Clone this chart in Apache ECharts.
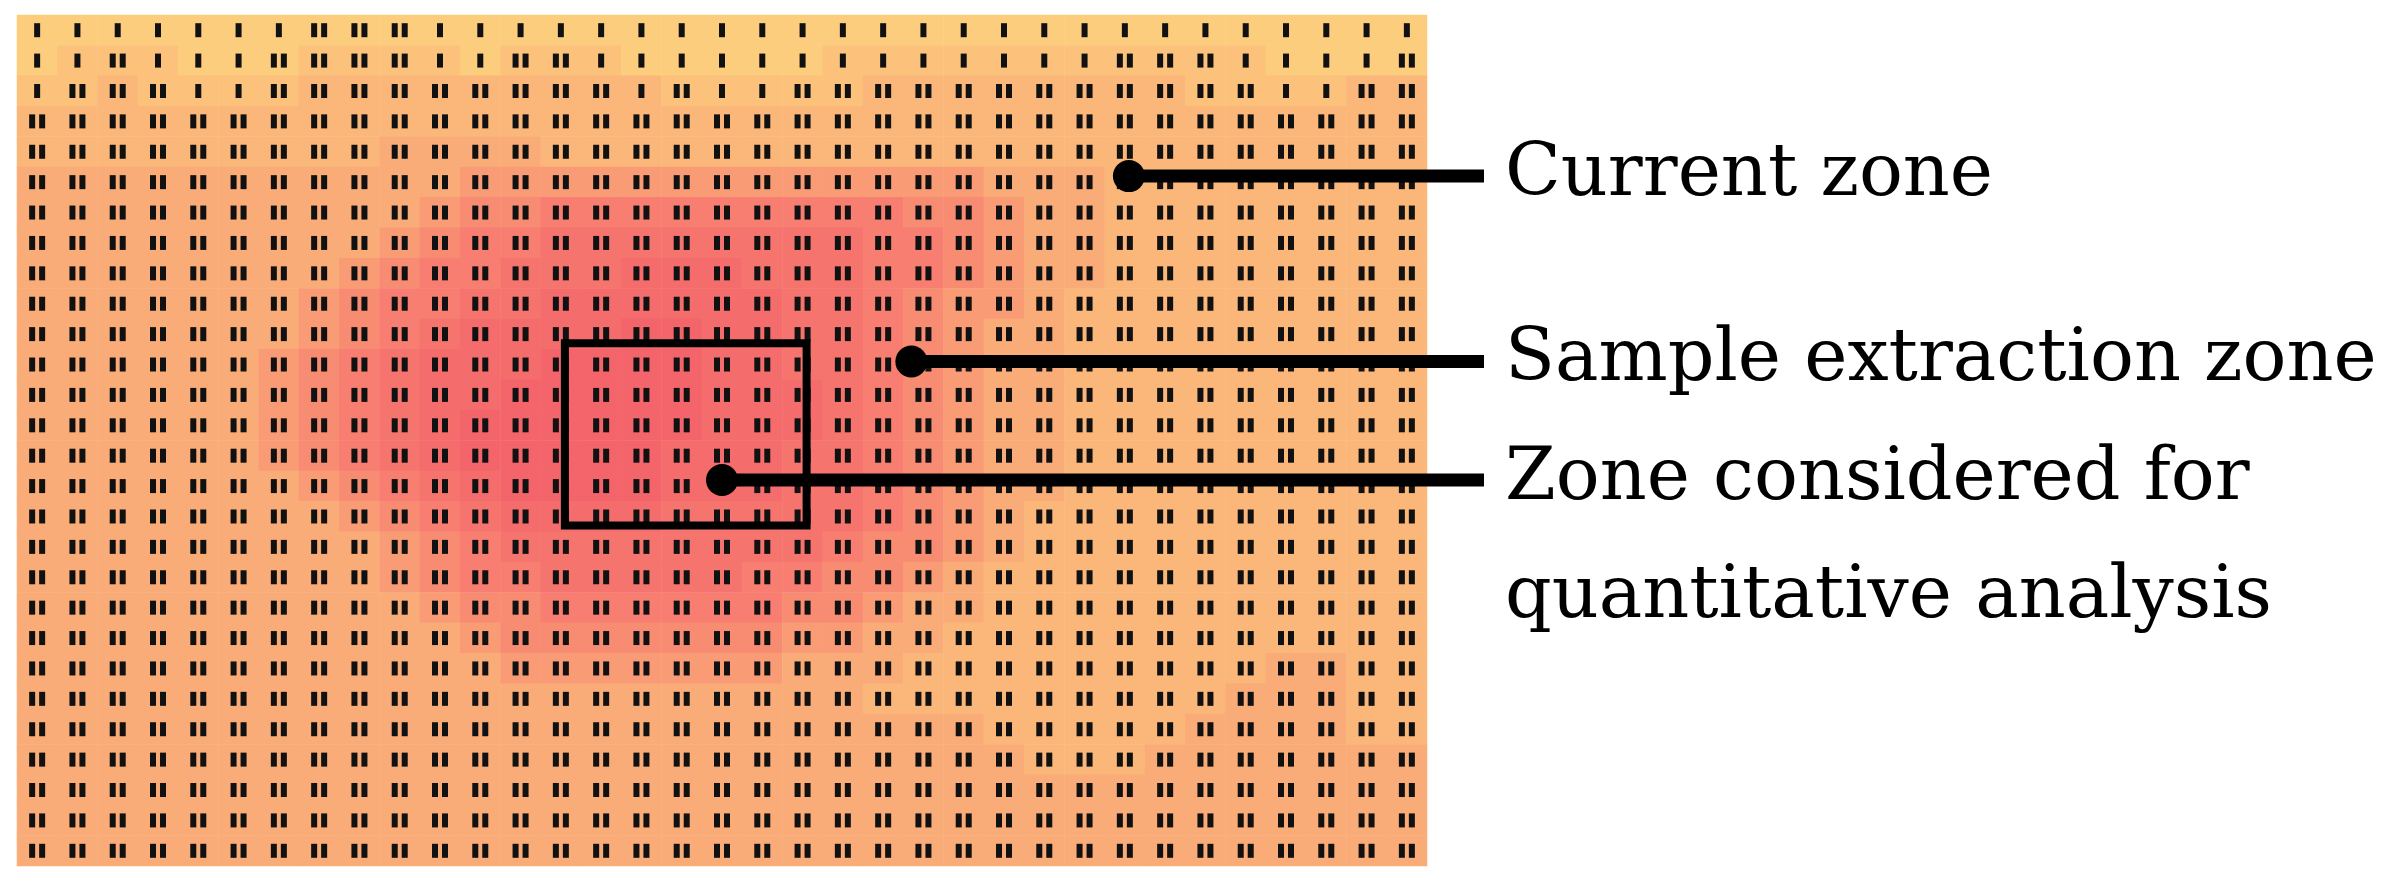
<!DOCTYPE html>
<html>
<head>
<meta charset="utf-8">
<script src="https://cdn.jsdelivr.net/npm/echarts@6/dist/echarts.min.js"></script>
<style>html,body{margin:0;background:#fff}#myChart{width:2400px;height:884px}</style>
</head>
<body>
<div id="myChart"></div>
<script>
// intensity levels (0 = yellow, 9 = red) per row
const rows = [
  "00000000000000000000000000000000000",
  "01110001111011100000111111111110000",
  "11211112222222221111122222222111122",
  "22222222222222222222222222222222222",
  "22222222233332222222222222222222222",
  "33333333333444444444444433322222222",
  "33333333334556666666665543322222222",
  "33333333345667777777766543322222222",
  "33333333456677788877766543322222222",
  "33333334566778888887765443222222222",
  "33333334567888899887765433222222222",
  "33333345678889999887765433222222222",
  "33333345678899999888765433222222222",
  "33333345678999999888765433222222222",
  "33333345678999998887765433222222222",
  "33333334567899998887765433222222222",
  "33333333456788887777765432222222222",
  "33333333345677777777655432222222222",
  "33333333345667777766554322222222222",
  "33333333334556666665543322222222222",
  "33333333333455555554433222222222222",
  "33333333333344444443332222222223322",
  "33333333333333333333322222222233322",
  "33333333333333333333333322222333322",
  "33333333333333333333333332223333333",
  "33333333333333333333333333333333333",
  "33333333333333333333333333333333333",
  "33333333333333333333333333333333333"
];
// marker type per cell for the top rows (1 = single bar, 2 = double bar); all others double
const markRows = [
  "11111112221111111111111111111111111",
  "11211122221122111111111111122211112",
  "12221122222222212112222222222221122"
];
const nCols = 35;
const labels = ["Current zone", "Sample extraction zone", "Zone considered for\nquantitative analysis"];
// anchor points in cell units [col, row]
const anchors = [[27.1, 4.8], [21.7, 10.9], [17.0, 14.8]];
const box = [13.1, 10.3, 19.1, 16.3];

const cols = Array.from({length: nCols}, (_, i) => i);
const rowIdx = rows.map((_, j) => j);
let heat = [], marks = [];
rows.forEach((r, j) => {
  for (let i = 0; i < nCols; i++) {
    heat.push([i, j, +(r[i] || r[r.length - 1])]);
    let t = j < markRows.length ? +markRows[j][i] : 2;
    marks.push([i, j, t]);
  }
});

let myChart = echarts.init(document.getElementById("myChart"));
let option = {
  animation: false,
  grid: { left: 17, top: 15, width: 1410, height: 851 },
  xAxis: { type: "category", data: cols, show: false },
  yAxis: { type: "category", data: rowIdx, inverse: true, show: false },
  visualMap: {
    show: false, min: 0, max: 9, seriesIndex: 0,
    inRange: { color: ["#fdcd7e", "#fcc27c", "#fbb77a", "#faac78", "#f99c76", "#f88c73", "#f77e70", "#f6746e", "#f56c6c", "#f4656b"] }
  },
  series: [
    { type: "heatmap", data: heat, itemStyle: { borderWidth: 0 } },
    {
      type: "custom", data: marks, silent: true,
      renderItem: function (params, api) {
        let p = api.coord([api.value(0), api.value(1)]);
        let st = { fill: "#111" };
        if (api.value(2) === 1) {
          return { type: "rect", shape: { x: p[0] - 3, y: p[1] - 7, width: 6, height: 14 }, style: st };
        }
        return { type: "group", children: [
          { type: "rect", shape: { x: p[0] - 8, y: p[1] - 7, width: 6, height: 14 }, style: st },
          { type: "rect", shape: { x: p[0] + 2, y: p[1] - 7, width: 6, height: 14 }, style: st }
        ] };
      }
    }
  ]
};
myChart.setOption(option);

// map fractional cell coordinates to pixels
const p0 = myChart.convertToPixel({ gridIndex: 0 }, [0, 0]);
const p1 = myChart.convertToPixel({ gridIndex: 0 }, [1, 1]);
const px = (c, r) => [p0[0] + c * (p1[0] - p0[0]), p0[1] + r * (p1[1] - p0[1])];
const b0 = px(box[0], box[1]), b1 = px(box[2], box[3]);
let g = [{
  type: "rect", shape: { x: b0[0], y: b0[1], width: b1[0] - b0[0], height: b1[1] - b0[1] },
  style: { fill: null, stroke: "#000", lineWidth: 8 }, z: 10
}];
const lineEnd = 1484;
anchors.forEach((a, k) => {
  const q = px(a[0], a[1]);
  g.push({ type: "line", shape: { x1: q[0], y1: q[1], x2: lineEnd, y2: q[1] }, style: { stroke: "#000", lineWidth: 13 }, z: 10 });
  g.push({ type: "circle", shape: { cx: q[0], cy: q[1], r: 16 }, style: { fill: "#000" }, z: 10 });
  g.push({
    type: "text", x: 1505, y: k === 2 ? q[1] - 59 : q[1], z: 10,
    style: { text: labels[k], font: "73px 'DejaVu Serif'", fill: "#000", lineHeight: 118, verticalAlign: k === 2 ? "top" : "middle" }
  });
});
myChart.setOption({ graphic: g });
</script>
</body>
</html>
